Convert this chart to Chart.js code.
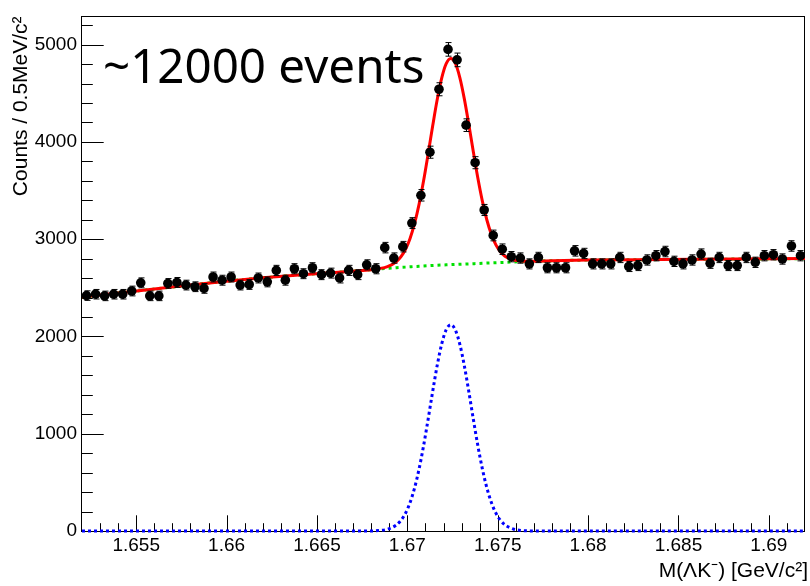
<!DOCTYPE html>
<html>
<head>
<meta charset="utf-8">
<script src="https://cdn.jsdelivr.net/npm/chart.js"></script>
<style>
html,body{margin:0;padding:0;background:#fff}
#wrap{width:810px;height:586px}
</style>
</head>
<body>
<div id="wrap"><canvas id="massChart" width="810" height="586"></canvas></div>
<script>
// histogram: 0.5 MeV bins from 1.652 to 1.692 GeV
const binLow = 1.652;
const binWidth = 0.0005;
const counts = [
	2420, 2434, 2417, 2434, 2434, 2467, 2551, 2417, 2417, 2545,
	2555, 2528, 2511, 2494, 2611, 2578, 2611, 2528, 2534, 2601,
	2561, 2679, 2578, 2696, 2645, 2706, 2635, 2651, 2601, 2679,
	2635, 2736, 2696, 2913, 2806, 2923, 3165, 3451, 3894, 4541,
	4951, 4843, 4172, 3786, 3300, 3038, 2897, 2820, 2806, 2746,
	2812, 2706, 2706, 2706, 2880, 2853, 2746, 2746, 2746, 2812,
	2719, 2729, 2786, 2830, 2873, 2772, 2746, 2786, 2847, 2752,
	2812, 2729, 2729, 2812, 2762, 2830, 2840, 2796, 2930, 2830
];
const errors = [
	49, 49, 49, 49, 49, 50, 51, 49, 49, 50,
	51, 50, 50, 50, 51, 51, 51, 50, 50, 51,
	51, 52, 51, 52, 51, 52, 51, 51, 51, 52,
	51, 52, 52, 54, 53, 54, 56, 59, 62, 67,
	70, 70, 65, 62, 57, 55, 54, 53, 53, 52,
	53, 52, 52, 52, 54, 53, 52, 52, 52, 53,
	52, 52, 53, 53, 54, 53, 52, 53, 53, 52,
	53, 52, 52, 53, 53, 53, 53, 53, 54, 53
];

// fit curves
const fitX = [
	1.652, 1.654, 1.656, 1.658, 1.660, 1.662, 1.664, 1.666, 1.667, 1.668,
	1.6684, 1.6689, 1.6694, 1.66965, 1.6699, 1.67015, 1.6704, 1.67065, 1.6709, 1.67115,
	1.6714, 1.67165, 1.6719, 1.67215, 1.6724, 1.67265, 1.6729, 1.67315, 1.6734, 1.67365,
	1.6739, 1.67415, 1.6744, 1.67465, 1.6749, 1.67515, 1.6754, 1.6759, 1.6764,
	1.677, 1.678, 1.680, 1.684, 1.688, 1.692
];
const fitBackground = [
	2405, 2446, 2487, 2529, 2568, 2603, 2632, 2658, 2671, 2685,
	2692, 2700, 2707, 2710, 2713, 2716, 2719, 2721, 2724, 2727,
	2730, 2732, 2734, 2736, 2738, 2740, 2742, 2744, 2746, 2748,
	2750, 2752, 2754, 2756, 2758, 2760, 2762, 2766, 2770,
	2774, 2779, 2785, 2790, 2795, 2800
];
const fitSignal = [
	0, 0, 0, 0, 0, 0, 0, 0, 0, 0,
	4, 18, 63, 110, 183, 292, 443, 639, 878, 1150,
	1433, 1701, 1922, 2069, 2120, 2069, 1922, 1701, 1433, 1150,
	878, 639, 443, 292, 183, 110, 63, 18, 4,
	0, 0, 0, 0, 0, 0
];
const fitTotal = [
	2405, 2446, 2487, 2529, 2568, 2603, 2632, 2658, 2671, 2685,
	2696, 2718, 2770, 2820, 2896, 3008, 3162, 3360, 3602, 3877,
	4163, 4433, 4656, 4805, 4858, 4809, 4664, 4445, 4179, 3898,
	3628, 3391, 3197, 3048, 2941, 2870, 2825, 2784, 2774,
	2774, 2779, 2785, 2790, 2795, 2800
];

const xTickValues = [1.655, 1.66, 1.665, 1.67, 1.675, 1.68, 1.685, 1.69];
const xTickLabels = ['1.655', '1.66', '1.665', '1.67', '1.675', '1.68', '1.685', '1.69'];
const yTickValues = [0, 1000, 2000, 3000, 4000, 5000];
const yTickLabels = ['0', '1000', '2000', '3000', '4000', '5000'];

const binCenter = i => binLow + (i + 0.5) * binWidth;
const points = counts.map((c, i) => ({x: binCenter(i), y: c}));
const toXY = ys => fitX.map((x, i) => ({x: x, y: ys[i]}));

const labelFamily = '"Liberation Sans", Arial, sans-serif';

// frame plus ROOT-style ticks pointing into the pad
const frameTicks = {
	id: 'frameTicks',
	beforeDatasetsDraw(chart){
		const {ctx, chartArea: a, scales: {x, y}} = chart;
		ctx.save();
		ctx.strokeStyle = '#000';
		ctx.lineWidth = 1;
		ctx.strokeRect(Math.round(a.left) - 0.5, Math.round(a.top) + 0.5, Math.round(a.right - a.left), Math.round(a.bottom - a.top));
		ctx.beginPath();
		for(let k = 0; k <= 40; k++){
			const v = 1.652 + k * 0.001;
			const px = Math.round(x.getPixelForValue(v)) + 0.5;
			if(px < a.left + 1 || px > a.right - 1) continue;
			const major = xTickValues.some(t => Math.abs(t - v) < 1e-7);
			ctx.moveTo(px, a.bottom);
			ctx.lineTo(px, a.bottom - (major ? 15.7 : 7.8));
		}
		for(let v = 0; v <= 5200; v += 200){
			const py = Math.round(y.getPixelForValue(v)) + 0.5;
			const major = v % 1000 === 0;
			ctx.moveTo(a.left, py);
			ctx.lineTo(a.left + (major ? 21.7 : 10.8), py);
		}
		ctx.stroke();
		ctx.restore();
	}
};

const errorBars = {
	id: 'errorBars',
	afterDatasetsDraw(chart){
		const {ctx, scales: {x, y}} = chart;
		ctx.save();
		ctx.strokeStyle = '#000';
		ctx.lineWidth = 1;
		ctx.beginPath();
		counts.forEach((c, i) => {
			const px = Math.round(x.getPixelForValue(binCenter(i))) + 0.5;
			const top = y.getPixelForValue(c + errors[i]);
			const bot = y.getPixelForValue(c - errors[i]);
			ctx.moveTo(px, top); ctx.lineTo(px, bot);
			ctx.moveTo(px - 3, top); ctx.lineTo(px + 3, top);
			ctx.moveTo(px - 3, bot); ctx.lineTo(px + 3, bot);
		});
		ctx.stroke();
		ctx.restore();
	}
};

const textLabels = {
	id: 'textLabels',
	afterDraw(chart){
		const ctx = chart.ctx;
		ctx.save();
		ctx.fillStyle = '#000';
		ctx.textBaseline = 'alphabetic';
		ctx.font = '47.5px "Noto Sans"';
		ctx.fillText('~12000 events', 103, 83);
		ctx.font = '21px ' + labelFamily;
		ctx.textAlign = 'right';
		ctx.fillText('M(ΛK⁻) [GeV/c²]', 808, 577);
		ctx.restore();
	}
};

const tickFont = {family: labelFamily, size: 19};

new Chart(document.getElementById('massChart').getContext('2d'), {
	type: 'scatter',
	data: {
		datasets: [
			{label: 'data', data: points, pointRadius: 4.8, pointBackgroundColor: '#000', pointBorderColor: '#000', pointBorderWidth: 0, showLine: false},
			{label: 'total', data: toXY(fitTotal), showLine: true, borderColor: '#ff0000', borderWidth: 3, pointRadius: 0, cubicInterpolationMode: 'monotone'},
			{label: 'signal', data: toXY(fitSignal), showLine: true, borderColor: '#0000ff', borderWidth: 3, borderDash: [3, 3], pointRadius: 0, cubicInterpolationMode: 'monotone', clip: 5},
			{label: 'background', data: toXY(fitBackground), showLine: true, borderColor: '#00e000', borderWidth: 3, borderDash: [3, 4], pointRadius: 0, cubicInterpolationMode: 'monotone'}
		]
	},
	options: {
		responsive: false,
		animation: false,
		events: [],
		layout: {padding: {left: 0, right: 5, top: 8, bottom: 0}},
		plugins: {legend: {display: false}, tooltip: {enabled: false}},
		scales: {
			x: {
				type: 'linear', min: 1.652, max: 1.692,
				grid: {display: false, drawTicks: false},
				border: {display: false},
				afterBuildTicks: s => { s.ticks = xTickValues.map(v => ({value: v})); },
				afterFit: s => { s.height = 55; },
				ticks: {callback: (v, i) => xTickLabels[i], font: tickFont, color: '#000', padding: 3, maxRotation: 0, autoSkip: false}
			},
			y: {
				type: 'linear', min: 0, max: 5290,
				grid: {display: false, drawTicks: false},
				border: {display: false},
				afterBuildTicks: s => { s.ticks = yTickValues.map(v => ({value: v})); },
				afterFit: s => { s.width = 82; },
				ticks: {callback: (v, i) => yTickLabels[i], font: tickFont, color: '#000', padding: 5},
				title: {display: true, text: 'Counts / 0.5MeV/c²', align: 'end', font: {family: labelFamily, size: 21}, color: '#000', padding: {top: 9, bottom: 0}}
			}
		}
	},
	plugins: [frameTicks, errorBars, textLabels]
});
</script>
</body>
</html>
